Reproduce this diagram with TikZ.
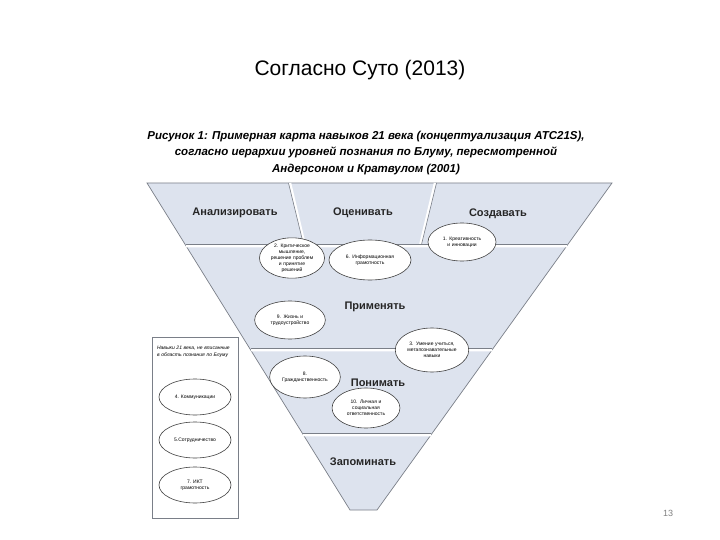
\documentclass[tikz,border=0pt]{standalone}
\usepackage{fontspec}
\setmainfont{Liberation Sans}
\usetikzlibrary{shapes.geometric}
\definecolor{layer}{HTML}{DDE3EE}
\definecolor{edge}{HTML}{7A7F88}
\tikzset{
 skill/.style={ellipse,draw=black!75,fill=white,line width=0.6pt,minimum width=#1,minimum height=38pt,inner sep=0pt,align=center,font=\fontsize{5}{6}\selectfont},
 skill/.default=68pt,
 level/.style={font=\fontsize{11}{12}\selectfont\bfseries,text=black!85},
}
\begin{document}
\begin{tikzpicture}[x=1pt,y=-1pt]
\useasboundingbox (0,0) rectangle (720,540);
\node (title) at (360,70) {\fontsize{21}{24}\selectfont Согласно Суто (2013)};
\node[align=center,font=\fontsize{11.5}{16.5}\selectfont\bfseries\itshape] (cap) at (366,153)
 {Рисунок 1: Примерная карта навыков 21 века (концептуализация ATC21S),\\
  согласно иерархии уровней познания по Блуму, пересмотренной\\
  Андерсоном и Кратвулом (2001)};
% funnel
\fill[layer,draw=edge,line width=0.7pt] (147,183) -- (612,183) -- (377,510) -- (350,510) -- cycle;
\draw[white,line width=2.5pt] (186,246) -- (567,246) (251,350) -- (492,350) (303,435) -- (431,435)
 (290,183) -- (305,246) (435,183) -- (420,246);
\draw[edge,line width=0.6pt] (186,244.5) -- (567,244.5) (251,348.5) -- (492,348.5) (303,433.5) -- (431,433.5)
 (288.5,183) -- (303.5,244.5) (436.5,183) -- (421.5,244.5);
\node[level] (an) at (235,213) {Анализировать};
\node[level] (oc) at (363,213) {Оценивать};
\node[level] (sz) at (498,214) {Создавать};
\node[level] (pr) at (375,307) {Применять};
\node[level] (po) at (378,383) {Понимать};
\node[level] (za) at (363,462) {Запоминать};
% skills
\node[skill=68pt,text width=48pt] (s1) at (462,242) {1. Креативность и инновации};
\node[skill=60pt,text width=46pt,minimum height=40pt] (s2) at (292,258) {2. Критическое мышление, решение проблем и принятие решений};
\node[skill=70pt,text width=58pt,minimum height=40pt] (s6) at (370,260) {6. Информационная грамотность};
\node[skill=70pt,text width=50pt] (s9) at (290,320) {9. Жизнь и трудоустройство};
\node[skill=72pt,text width=52pt,minimum height=44pt] (s3) at (432,350) {3. Умение учиться, метапознавательные навыки};
\node[skill=70pt,text width=50pt,minimum height=42pt] (s8) at (305,377) {8. Гражданственность};
\node[skill=64pt,text width=48pt,minimum height=40pt] (s10) at (366,408) {10. Личная и социальная ответственность};
% left box
\draw[edge,fill=white,line width=0.8pt] (152,337) rectangle (238,518);
\node[align=left,font=\fontsize{5}{6.5}\selectfont\itshape,text width=76pt] (nb) at (195,352)
 {Навыки 21 века, не вписанные в область познания по Блуму};
\node[skill=72pt,minimum height=36pt] (s4) at (195,397) {4. Коммуникации};
\node[skill=72pt,minimum height=36pt] (s5) at (195,440) {5.Сотрудничество};
\node[skill=72pt,minimum height=36pt] (s7) at (195,485) {7. ИКТ\\грамотность};
\node[text=black!50,font=\fontsize{9}{10}\selectfont] (pg) at (668,513) {13};
\end{tikzpicture}
\end{document}
